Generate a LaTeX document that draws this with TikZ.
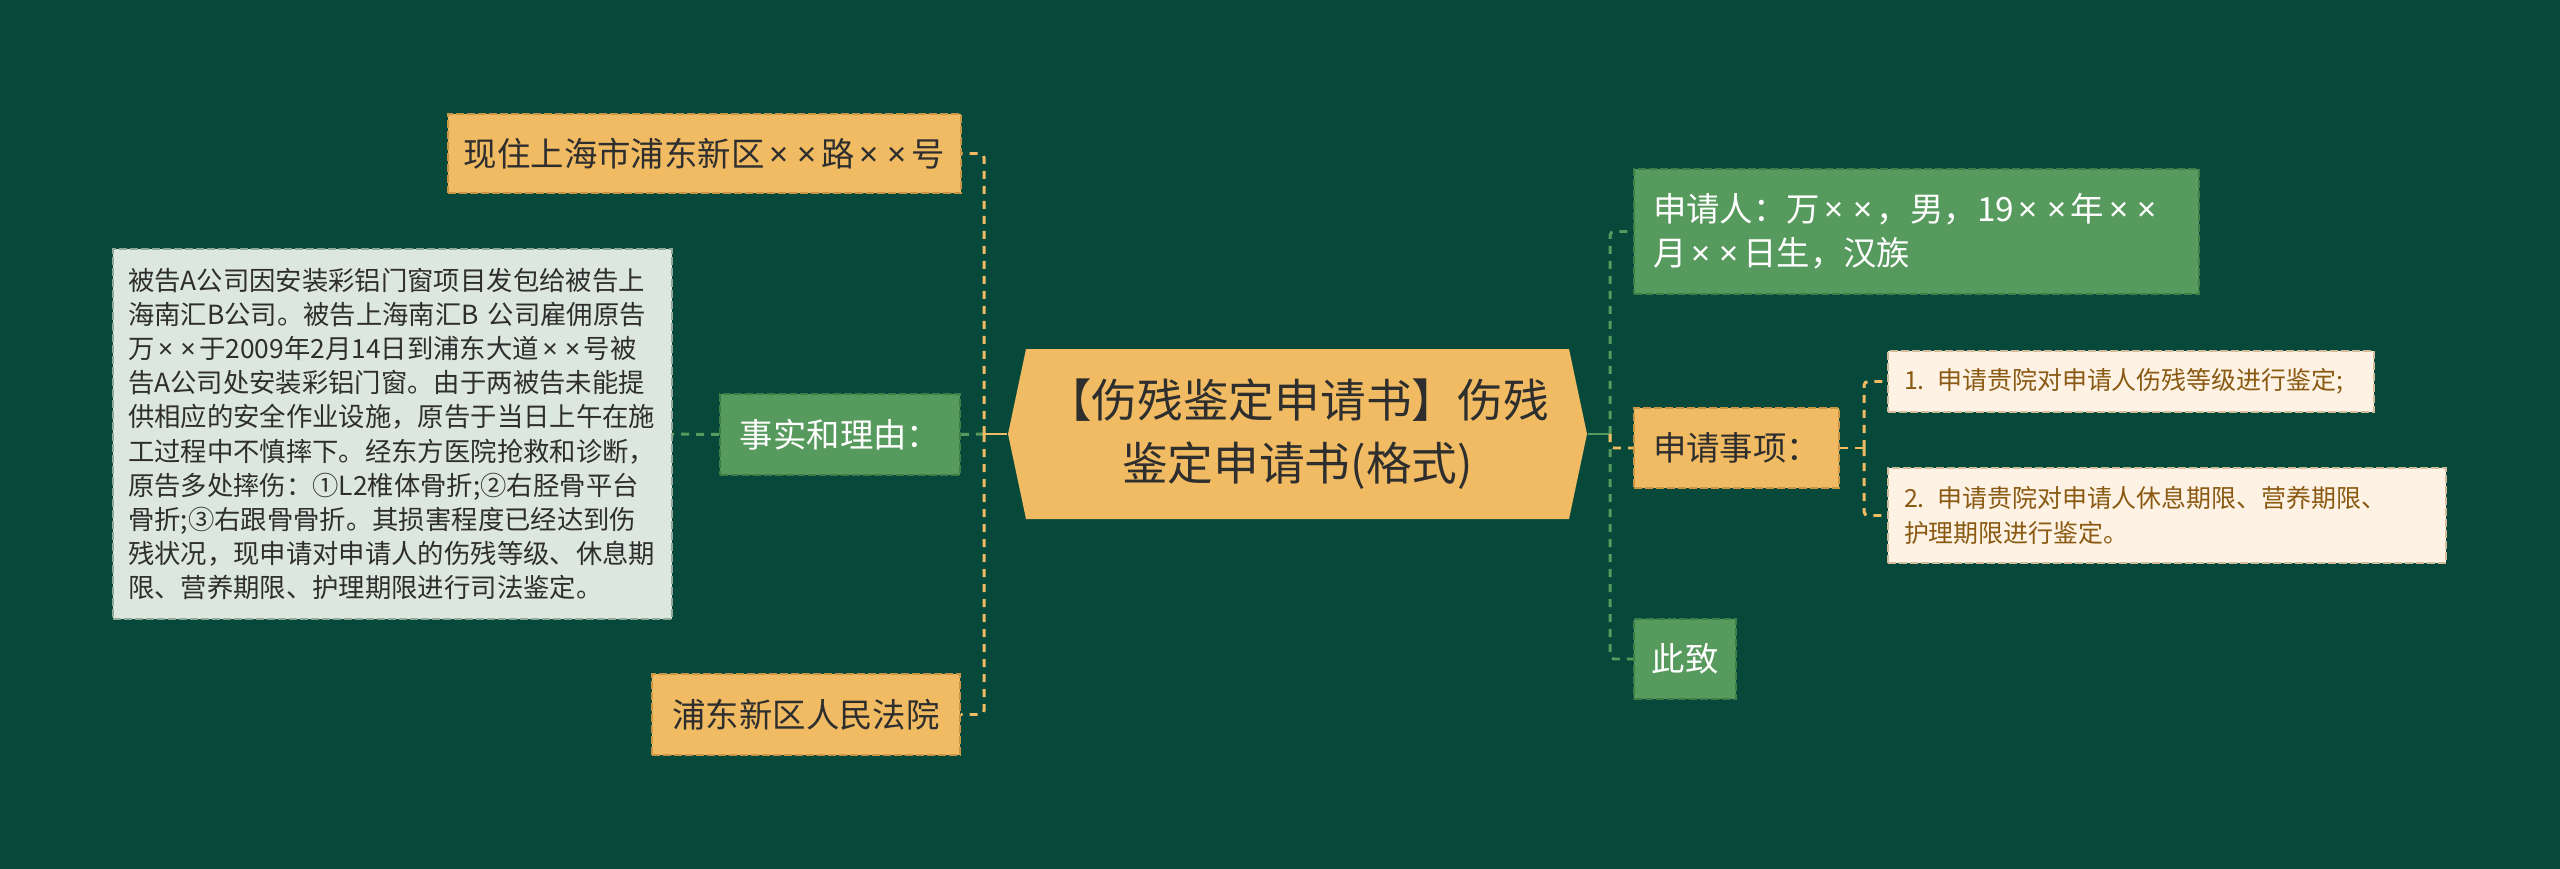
\documentclass[tikz,border=0pt]{standalone}
\usepackage{fontspec}
\setmainfont{Noto Sans CJK SC}
\newfontfamily\latinfont{Noto Sans}
\newcommand\tm{{\kern0.14em\latinfont ×\kern0.14em}}
\usepackage{xcolor}
\usetikzlibrary{positioning}
\definecolor{board}{HTML}{06493A}
\definecolor{gold}{HTML}{F0BB62}
\definecolor{golddark}{HTML}{C99645}
\definecolor{leaf}{HTML}{579A5E}
\definecolor{leafdark}{HTML}{3E7C48}
\definecolor{mist}{HTML}{DCE8DF}
\definecolor{mistdark}{HTML}{8FA898}
\definecolor{cream}{HTML}{FDF2E4}
\definecolor{creamdark}{HTML}{D3BC9C}
\definecolor{ink}{HTML}{2E2E2E}
\definecolor{rust}{HTML}{8A5A12}
\tikzset{
  box/.style={rectangle, inner sep=0pt, align=center, draw, line width=0.55pt,
    dash pattern=on 0.08cm off 0.03cm, font=\fontsize{9.5pt}{12.5pt}\selectfont},
  goldbox/.style={box, fill=gold, draw=golddark, text=ink},
  greenbox/.style={box, fill=leaf, draw=leafdark, text=white},
  mistbox/.style={box, fill=mist, draw=mistdark, text=ink, align=left,
    font=\fontsize{7.5pt}{9.7pt}\selectfont},
  creambox/.style={box, fill=cream, draw=creamdark, text=rust, align=left,
    font=\fontsize{7.1pt}{10pt}\selectfont},
  link/.style={line width=0.85pt, dash pattern=on 0.08cm off 0.07cm, rounded corners=0.04cm},
  stub/.style={line width=0.85pt}
}
\begin{document}
\begin{tikzpicture}[x=1cm, y=-1cm]
  \fill[board] (0,0) rectangle (25.6,8.69);
  \useasboundingbox (0,0) rectangle (25.6,8.69);

  % centre topic
  \fill[gold] (10.08,4.34) -- (10.26,3.49) -- (15.69,3.49) -- (15.87,4.34)
    -- (15.69,5.19) -- (10.26,5.19) -- cycle;
  \node[align=center, text=ink, inner sep=0pt, minimum width=5.79cm, minimum height=1.70cm,
    font=\fontsize{13pt}{17.8pt}\selectfont] (root) at (12.975,4.34)
    {【伤残鉴定申请书】伤残\\鉴定申请书(格式)};

  % left side
  \node[goldbox, minimum width=5.13cm, minimum height=0.79cm] (addr) at (7.045,1.535) {现住上海市浦东新区\tm\tm 路\tm\tm 号};
  \node[greenbox, minimum width=2.40cm, minimum height=0.81cm] (facts) at (8.40,4.345) {事实和理由：};
  \node[mistbox, minimum width=5.59cm, minimum height=3.70cm, text width=5.29cm] (detail) at (3.925,4.34)
    {被告A公司因安装彩铝门窗项目发包给被告上\\
     海南汇B公司。被告上海南汇B 公司雇佣原告\\
     万\tm\tm 于2009年2月14日到浦东大道\tm\tm 号被\\
     告A公司处安装彩铝门窗。由于两被告未能提\\
     供相应的安全作业设施，原告于当日上午在施\\
     工过程中不慎摔下。经东方医院抢救和诊断，\\
     原告多处摔伤：①L2椎体骨折;②右胫骨平台\\
     骨折;③右跟骨骨折。其损害程度已经达到伤\\
     残状况，现申请对申请人的伤残等级、休息期\\
     限、营养期限、护理期限进行司法鉴定。};
  \node[goldbox, minimum width=3.08cm, minimum height=0.81cm] (court) at (8.06,7.145) {浦东新区人民法院};

  % right side
  \node[greenbox, align=left, minimum width=5.65cm, minimum height=1.25cm, text width=5.27cm] (applicant) at (19.165,2.315)
    {申请人：万\tm\tm ，男，19\tm\tm 年\tm\tm\\月\tm\tm 日生，汉族};
  \node[goldbox, minimum width=2.05cm, minimum height=0.80cm] (items) at (17.365,4.48) {申请事项：};
  \node[greenbox, minimum width=1.02cm, minimum height=0.80cm] (closing) at (16.85,6.59) {此致};
  \node[creambox, minimum width=4.86cm, minimum height=0.61cm, text width=4.54cm] (item1) at (21.31,3.815)
    {1. 申请贵院对申请人伤残等级进行鉴定;};
  \node[creambox, minimum width=5.58cm, minimum height=0.95cm, text width=5.26cm] (item2) at (21.67,5.155)
    {2. 申请贵院对申请人休息期限、营养期限、\\护理期限进行鉴定。};

  \coordinate (lspine) at (9.84,4.34);
  \coordinate (rspine) at (16.10,4.34);
  \coordinate (ispine) at (18.64,4.48);

  % connectors
  \draw[link, leaf] (facts.west) -- (detail.east);
  \draw[link, leaf] (facts.east) -- (lspine);
  \draw[stub, gold] (root.west) -- (lspine);
  \draw[link, gold] (lspine) |- (addr.east);
  \draw[link, gold] (lspine) |- (court.east);

  \draw[stub, leaf] (root.east) -- (rspine);
  \draw[link, leaf] (rspine) |- (applicant.west);
  \draw[link, leaf] (rspine) |- (closing.west);
  \draw[link, gold] (rspine) |- (items.west);
  \draw[link, gold] (items.east) -- (ispine);
  \draw[link, gold] (ispine) |- (item1.west);
  \draw[link, gold] (ispine) |- (item2.west);
\end{tikzpicture}
\end{document}
